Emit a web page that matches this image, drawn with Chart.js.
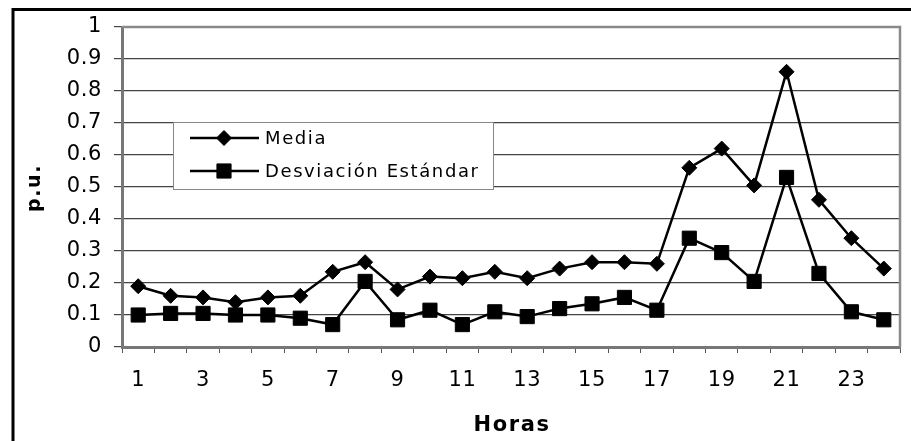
<!DOCTYPE html>
<html>
<head>
<meta charset="utf-8">
<script src="https://cdn.jsdelivr.net/npm/chart.js@4/dist/chart.umd.min.js"></script>
<style>
  html, body { margin: 0; padding: 0; background: #fff; }
  #wrap { width: 911px; height: 441px; position: relative; }
</style>
</head>
<body>
<div id="wrap"><canvas id="grafico" width="911" height="441"></canvas></div>
<script>
const horas = ["1","2","3","4","5","6","7","8","9","10","11","12","13","14","15","16","17","18","19","20","21","22","23","24"];
const media = [0.19, 0.16, 0.155, 0.14, 0.155, 0.16, 0.235, 0.265, 0.18, 0.22, 0.215, 0.235,
               0.215, 0.245, 0.265, 0.265, 0.26, 0.56, 0.62, 0.505, 0.86, 0.46, 0.34, 0.245];
const desviacion = [0.10, 0.105, 0.105, 0.10, 0.10, 0.09, 0.07, 0.205, 0.085, 0.115, 0.07, 0.11,
                    0.095, 0.12, 0.135, 0.155, 0.115, 0.34, 0.295, 0.205, 0.53, 0.23, 0.11, 0.085];
const tituloX = "Horas";
const tituloY = "p.u.";

const FONT = "'DejaVu Sans', Arial, sans-serif";

function espaciar(ctx, px) {
  if ("letterSpacing" in ctx) ctx.letterSpacing = px + "px";
}

// texto de los ejes un poco espaciado
const espaciado = {
  id: "espaciado",
  beforeDraw(chart) { espaciar(chart.ctx, 0.6); }
};

// marco exterior, borde del área, títulos de ejes y leyenda
const extras = {
  id: "extras",
  afterDraw(chart) {
    const ctx = chart.ctx;
    const a = chart.chartArea;
    ctx.save();
    // marco
    ctx.strokeStyle = "#000";
    ctx.lineWidth = 3;
    ctx.beginPath();
    ctx.moveTo(13, 441);
    ctx.lineTo(13, 9.5);
    ctx.lineTo(911, 9.5);
    ctx.stroke();
    // borde derecho y superior del área de trazado
    ctx.strokeStyle = "#8a8a8a";
    ctx.lineWidth = 2.5;
    ctx.beginPath();
    ctx.moveTo(a.left, a.top);
    ctx.lineTo(a.right, a.top);
    ctx.lineTo(a.right, a.bottom);
    ctx.stroke();

    // títulos
    ctx.fillStyle = "#000";
    ctx.textAlign = "center";
    ctx.textBaseline = "middle";
    espaciar(ctx, 1.6);
    ctx.font = "bold 21px " + FONT;
    ctx.fillText(tituloX, (a.left + a.right) / 2 + 1, 426);
    ctx.save();
    ctx.translate(35, (a.top + a.bottom) / 2 + 2);
    ctx.rotate(-Math.PI / 2);
    ctx.font = "bold 19px " + FONT;
    ctx.fillText(tituloY, 1, 0);
    ctx.restore();

    // leyenda
    const lx = a.left + 51, ly = a.top + 95, lw = 320, lh = 67;
    ctx.fillStyle = "#fff";
    ctx.fillRect(lx, ly, lw, lh);
    ctx.strokeStyle = "#888";
    ctx.lineWidth = 1;
    ctx.strokeRect(lx + 0.5, ly + 0.5, lw, lh);
    const items = [
      { text: "Media", style: "rectRot", r: 7.5, y: ly + 16 },
      { text: "Desviación Estándar", style: "rect", r: 10, y: ly + 49 }
    ];
    ctx.font = "18px " + FONT;
    ctx.textAlign = "left";
    ctx.textBaseline = "middle";
    espaciar(ctx, 1.6);
    items.forEach(it => {
      ctx.strokeStyle = "#000";
      ctx.lineWidth = 2.5;
      ctx.beginPath();
      ctx.moveTo(lx + 17, it.y);
      ctx.lineTo(lx + 86, it.y);
      ctx.stroke();
      ctx.fillStyle = "#000";
      ctx.lineWidth = 1;
      Chart.helpers.drawPoint(ctx, { pointStyle: it.style, radius: it.r, borderWidth: 1 }, lx + 51, it.y);
      ctx.fillStyle = "#000";
      ctx.fillText(it.text, lx + 92, it.y + 1);
    });
    ctx.restore();
  }
};

new Chart(document.getElementById("grafico"), {
  type: "line",
  data: {
    labels: horas,
    datasets: [
      {
        label: "Media",
        data: media,
        borderColor: "#000",
        backgroundColor: "#000",
        borderWidth: 2.5,
        pointStyle: "rectRot",
        pointRadius: 7.5,
        pointBorderWidth: 1,
        tension: 0
      },
      {
        label: "Desviación Estándar",
        data: desviacion,
        borderColor: "#000",
        backgroundColor: "#000",
        borderWidth: 2.5,
        pointStyle: "rect",
        pointRadius: 10,
        pointBorderWidth: 1,
        tension: 0
      }
    ]
  },
  options: {
    responsive: false,
    animation: false,
    layout: { padding: { top: 27, right: 8, left: 0, bottom: 0 } },
    plugins: {
      legend: { display: false },
      tooltip: { enabled: false }
    },
    scales: {
      x: {
        offset: true,
        grid: { drawOnChartArea: false, drawTicks: true, tickLength: 6, color: "#555", offset: true },
        border: { color: "#777", width: 3 },
        ticks: {
          autoSkip: false,
          maxRotation: 0,
          color: "#000",
          padding: 15,
          font: { family: FONT, size: 21 },
          callback: (v, i) => (i % 2 === 0 ? horas[i] : "")
        },
        afterFit: (s) => { s.height = 94; }
      },
      y: {
        min: 0,
        max: 1,
        ticks: {
          stepSize: 0.1,
          color: "#000",
          padding: 12,
          font: { family: FONT, size: 21 },
          callback: (v) => Math.round(v * 10) / 10
        },
        grid: { color: "#444", lineWidth: 1.2, tickLength: 8 },
        border: { color: "#777", width: 3 },
        afterFit: (s) => { s.width = 122; }
      }
    }
  },
  plugins: [espaciado, extras]
});
</script>
</body>
</html>
